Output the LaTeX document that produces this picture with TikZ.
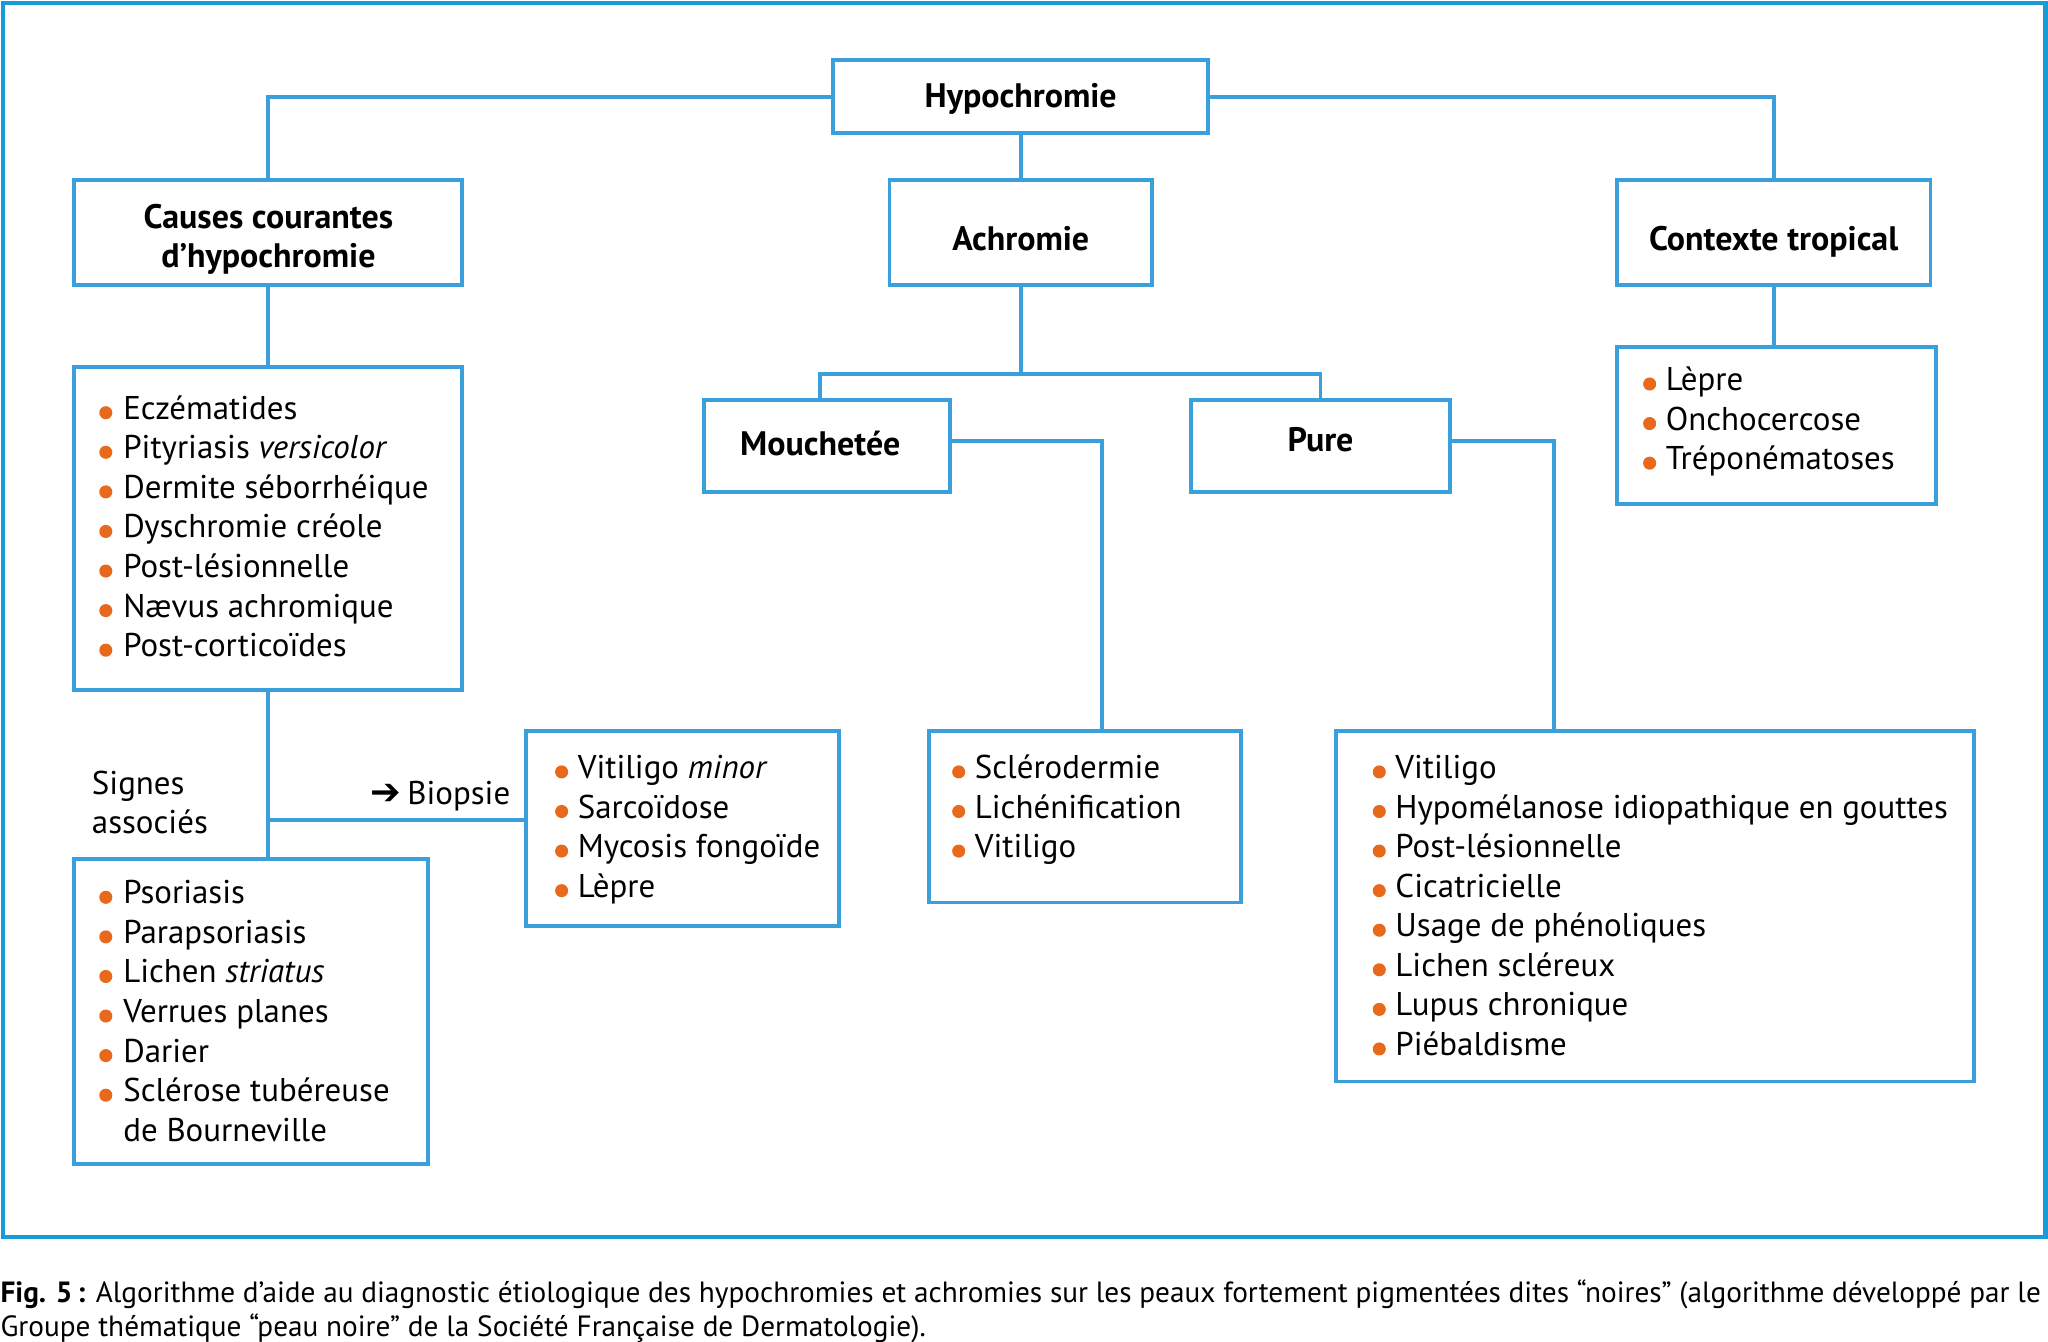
\documentclass[tikz,border=0pt]{standalone}
\usepackage{fontspec}
\setmainfont{PT Sans}
\newfontfamily\djv{DejaVu Sans}
\definecolor{lineblue}{RGB}{58,160,220}
\definecolor{frameblue}{RGB}{25,155,215}
\definecolor{bulorange}{RGB}{232,104,28}
\begin{document}
\begin{tikzpicture}[x=0.5pt,y=-0.5pt,
  box/.style={draw=lineblue,line width=1.5pt,rectangle,inner sep=0pt},
  title/.style={inner sep=0pt,align=center,font=\bfseries\fontsize{13}{15}\selectfont},
  conn/.style={draw=lineblue,line width=1.5pt},
  itemtext/.style={anchor=base west,inner sep=0pt,font=\fontsize{12.6}{14}\selectfont},
  captext/.style={anchor=base west,inner sep=0pt,font=\fontsize{11.2}{13}\selectfont}]
\useasboundingbox (0,0) rectangle (1568,1027);
\fill[white] (0,0) rectangle (1568,1027);
\draw[frameblue,line width=1.6pt] (2,2) rectangle (1566,947);

% boxes
\node[box,minimum width=143.5pt,minimum height=28pt] (hypo) at (781.5,74) {};
\node[box,minimum width=148.5pt,minimum height=40pt] (causes) at (205.5,178) {};
\node[box,minimum width=100.5pt,minimum height=40pt] (achro) at (781.5,178) {};
\node[box,minimum width=120pt,minimum height=40pt] (tropic) at (1358,178) {};
\node[box,minimum width=148.5pt,minimum height=123.5pt] (causeslist) at (205.5,404.5) {};
\node[box,minimum width=122pt,minimum height=60pt] (troplist) at (1360,326) {};
\node[box,minimum width=94pt,minimum height=35.5pt] (mouch) at (633,341.5) {};
\node[box,minimum width=99pt,minimum height=35.5pt] (pure) at (1011,341.5) {};
\node[box,minimum width=119.5pt,minimum height=65.5pt] (sclero) at (830.5,625.5) {};
\node[box,minimum width=244pt,minimum height=134pt] (purelist) at (1267,694) {};
\node[box,minimum width=119.5pt,minimum height=74.5pt] (biopsy) at (522.5,634.5) {};
\node[box,minimum width=135.5pt,minimum height=116.5pt] (signes) at (192.5,774.5) {};

% titles
\node[title] (hypoT) at (781.5,76) {Hypochromie};
\node[title] (causesT) at (205.5,183) {Causes courantes\\d’hypochromie};
\node[title] (achroT) at (781.5,183) {Achromie};
\node[title] (tropicT) at (1358,185) {Contexte tropical};
\node[title] (mouchT) at (628,339.5) {Mouchetée};
\node[title] (pureT) at (1011,336.5) {Pure};

% connectors
\draw[conn] (hypo.west) -| (causes.north);
\draw[conn] (hypo.east) -| (tropic.north);
\draw[conn] (hypo.south) -- (achro.north);
\draw[conn] (causes.south) -- (causeslist.north);
\draw[conn] (tropic.south) -- (tropic.south |- troplist.north);
\coordinate (split) at (781.5,286);
\draw[conn] (achro.south) -- (split);
\draw[conn] ([xshift=-2.5pt]mouch.north) |- (split) -| (pure.north);
\draw[conn] ([yshift=2pt]mouch.east) -| ([xshift=6.75pt]sclero.north);
\draw[conn] ([yshift=2pt]pure.east) -| ([xshift=-38.5pt]purelist.north);
\draw[conn] (causeslist.south) -- (causeslist.south |- signes.north);
\coordinate (branch) at (205.5,628);
\draw[conn] (branch) -- (branch -| biopsy.west);

% lists
\foreach \t [count=\i] in {Eczématides,Pityriasis \textit{versicolor},Dermite séborrhéique,Dyschromie créole,Post-lésionnelle,Nævus achromique,Post-corticoïdes}{
  \node[itemtext] (cl\i) at (94,{321+30.3*(\i-1)}) {\t};
  \fill[bulorange] (81,{316+30.3*(\i-1)}) circle (5);
}
\foreach \t [count=\i] in {Lèpre,Onchocercose,Tréponématoses}{
  \node[itemtext] (tl\i) at (1275,{299+30.3*(\i-1)}) {\t};
  \fill[bulorange] (1263,{294+30.3*(\i-1)}) circle (5);
}
\foreach \t [count=\i] in {Vitiligo \textit{minor},Sarcoïdose,Mycosis fongoïde,Lèpre}{
  \node[itemtext] (bl\i) at (442,{596+30.3*(\i-1)}) {\t};
  \fill[bulorange] (430,{591+30.3*(\i-1)}) circle (5);
}
\foreach \t [count=\i] in {Sclérodermie,Lichénification,Vitiligo}{
  \node[itemtext] (sl\i) at (746,{596+30.3*(\i-1)}) {\t};
  \fill[bulorange] (734,{591+30.3*(\i-1)}) circle (5);
}
\foreach \t [count=\i] in {Vitiligo,Hypomélanose idiopathique en gouttes,Post-lésionnelle,Cicatricielle,Usage de phénoliques,Lichen scléreux,Lupus chronique,Piébaldisme}{
  \node[itemtext] (pl\i) at (1068,{596+30.3*(\i-1)}) {\t};
  \fill[bulorange] (1056,{591+30.3*(\i-1)}) circle (5);
}
\foreach \t [count=\i] in {Psoriasis,Parapsoriasis,Lichen \textit{striatus},Verrues planes,Darier,Sclérose tubéreuse}{
  \node[itemtext] (gl\i) at (94,{692+30.3*(\i-1)}) {\t};
  \fill[bulorange] (81,{687+30.3*(\i-1)}) circle (5);
}
\node[itemtext] (gl7) at (94,874) {de Bourneville};

% free labels
\node[itemtext] (signes1) at (70,608) {Signes};
\node[itemtext] (signes2) at (70,638) {associés};
\node[itemtext] (biop) at (283,616) {{\djv\fontsize{14}{14}\selectfont ➔}\hspace{2.5pt}Biopsie};

% caption
\node[captext] (cap1) at (0,997) {\textbf{Fig. 5\,:} Algorithme d’aide au diagnostic étiologique des hypochromies et achromies sur les peaux fortement pigmentées dites “noires” (algorithme développé par le};
\node[captext] (cap2) at (0,1023) {Groupe thématique “peau noire” de la Société Française de Dermatologie).};
\end{tikzpicture}
\end{document}
